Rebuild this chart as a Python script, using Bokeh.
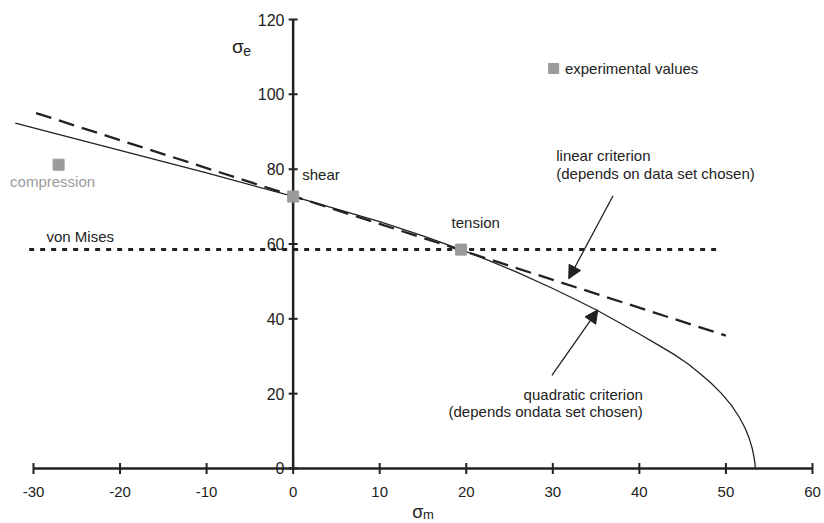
from bokeh.plotting import figure
from bokeh.models import Range1d, Arrow, NormalHead
from bokeh.core.properties import value
from bokeh.embed import file_html
from bokeh.resources import INLINE

# ---- data ----
quad_sm = [-32.1, -26, -20, -10, 0, 10, 15, 19.4, 22.5, 25.9, 30, 32.5, 35.1, 37.6, 40.1,
           42.1, 44.0, 45.6, 47.0, 48.3, 49.5, 50.6, 51.5, 52.2, 52.7, 53.05, 53.25, 53.35, 53.4]
quad_se = [92.3, 88.6, 85.0, 79.0, 72.7, 66.0, 62.2, 58.5, 55.7, 52.4, 48.1, 45.3, 42.3, 39.1, 35.8,
           33.1, 30.5, 28.0, 25.4, 22.8, 20.0, 17.0, 13.9, 10.9, 8.0, 5.3, 3.0, 1.4, 0.0]

linear_sm = [-29.7, 50.0]
linear_se = [95.0, 35.5]

vonmises_sm = [-30.5, 49.3]
vonmises_se = [58.5, 58.5]

exp_names = ["shear", "tension", "compression"]
exp_sm = [0.0, 19.4, -27.1]
exp_se = [72.7, 58.5, 81.2]

x_ticks = [-30, -20, -10, 0, 10, 20, 30, 40, 50, 60]
y_ticks = [0, 20, 40, 60, 80, 100, 120]

FONT = "Liberation Sans"
DARK = "#222222"
GRAY = "#9b9b9b"

p = figure(width=824, height=523, output_backend="svg", toolbar_location=None,
           x_range=Range1d(-33.81, 61.39), y_range=Range1d(-14.70, 125.08),
           min_border=0, min_border_left=0, min_border_right=0,
           min_border_top=0, min_border_bottom=0)
p.axis.visible = False
p.xgrid.visible = False
p.ygrid.visible = False
p.outline_line_color = None
p.background_fill_color = "white"
p.border_fill_color = "white"

# ---- axes drawn through the data scales ----
p.segment(x0=[x_ticks[0]], y0=[0], x1=[x_ticks[-1]], y1=[0], line_color=DARK, line_width=2.5)
p.segment(x0=[0], y0=[y_ticks[0]], x1=[0], y1=[y_ticks[-1]], line_color=DARK, line_width=2.5)
p.scatter(x=x_ticks, y=[0] * len(x_ticks), marker="dash", angle=1.5708, size=11,
          line_color=DARK, line_width=2)
p.scatter(x=[0] * len(y_ticks), y=y_ticks, marker="dash", size=9,
          line_color=DARK, line_width=2)
p.text(x=x_ticks, y=[-6.2] * len(x_ticks), text=[str(t) for t in x_ticks],
       text_align="center", text_baseline="middle", text_font=value(FONT),
       text_font_size="15px", text_color=DARK)
p.text(x=[-1.0] * len(y_ticks), y=y_ticks, text=[str(t) for t in y_ticks],
       text_align="right", text_baseline="middle", text_font=value(FONT),
       text_font_size="16px", text_color=DARK)

# axis titles
p.text(x=[13.75], y=[-11.5], text=["σ"], text_align="left", text_baseline="middle",
       text_font=value(FONT), text_font_size="18px", text_color=DARK)
p.text(x=[15.0], y=[-12.3], text=["m"], text_align="left", text_baseline="middle",
       text_font=value(FONT), text_font_size="13px", text_color=DARK)
p.text(x=[-7.05], y=[112.9], text=["σ"], text_align="left", text_baseline="middle",
       text_font=value(FONT), text_font_size="19px", text_color=DARK)
p.text(x=[-5.75], y=[111.6], text=["e"], text_align="left", text_baseline="middle",
       text_font=value(FONT), text_font_size="14px", text_color=DARK)

# ---- criteria ----
p.line(vonmises_sm, vonmises_se, line_color=DARK, line_width=3, line_dash="5 6")
p.line(quad_sm, quad_se, line_color=DARK, line_width=1.3, line_join="round")
p.line(linear_sm, linear_se, line_color=DARK, line_width=2.3, line_dash="16 8")

# ---- experimental values ----
p.scatter(x=exp_sm, y=exp_se, marker="square", size=11, fill_color=GRAY, line_color=GRAY)
p.scatter(x=[30.1], y=[106.9], marker="square", size=10, fill_color=GRAY, line_color=GRAY)

# ---- labels ----
def label(x, y, txt, align="left", color=DARK, size="15px"):
    p.text(x=[x], y=[y], text=[txt], text_align=align, text_baseline="middle",
           text_font=value(FONT), text_font_size=size, text_color=color)

label(31.4, 106.9, "experimental values")
label(1.05, 78.6, "shear")
label(18.3, 65.7, "tension")
label(-28.5, 62.0, "von Mises")
label(-32.7, 76.7, "compression", color=GRAY)
label(30.4, 83.7, "linear criterion")
label(30.4, 78.8, "(depends on data set chosen)")
label(40.4, 19.8, "quadratic criterion", align="right")
label(40.4, 15.2, "(depends ondata set chosen)", align="right")

# ---- arrows ----
p.add_layout(Arrow(end=NormalHead(size=13, fill_color=DARK, line_color=DARK),
                   x_start=36.96, y_start=72.9, x_end=31.84, y_end=50.7,
                   line_color=DARK, line_width=1.3))
p.add_layout(Arrow(end=NormalHead(size=13, fill_color=DARK, line_color=DARK),
                   x_start=29.9, y_start=24.9, x_end=35.2, y_end=42.4,
                   line_color=DARK, line_width=1.3))

open("out.html", "w").write(file_html(p, INLINE))
